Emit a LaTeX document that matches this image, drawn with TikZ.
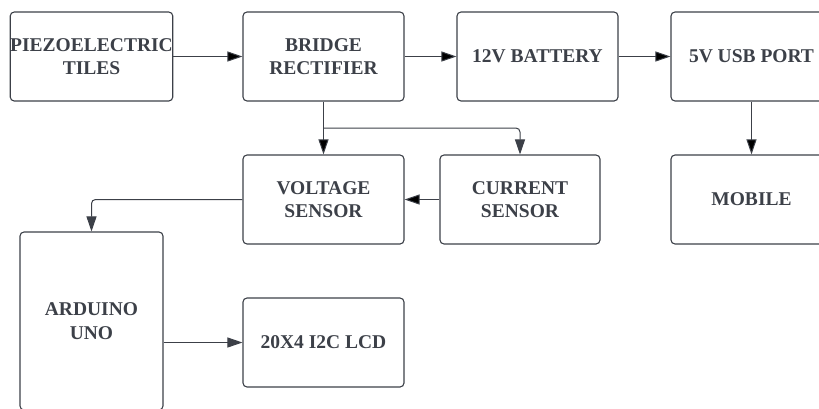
\documentclass[tikz,border=0pt]{standalone}
\usepackage{fontspec}
\setmainfont{Liberation Serif}
\usetikzlibrary{arrows.meta}
\definecolor{inkgray}{RGB}{60,64,72}
\tikzset{
  block/.style={draw=inkgray, line width=1.1pt, rounded corners=4pt, align=center,
    minimum width=161pt, minimum height=89pt, inner sep=0pt, text=inkgray,
    font=\bfseries\fontsize{19.5}{23.5}\selectfont},
  flow/.style={draw=inkgray, line width=1pt, rounded corners=4pt,
    -{Triangle[length=15pt,width=10pt]}}
}
\begin{document}
\begin{tikzpicture}[]
    \useasboundingbox (0pt,0pt) rectangle (819pt,-408pt);
    \node[block] (piezo)   at (91.5pt,-56.5pt)  {PIEZOELECTRIC\\TILES};
    \node[block] (bridge)  at (323.5pt,-56.5pt) {BRIDGE\\RECTIFIER};
    \node[block] (battery) at (537.5pt,-56.5pt) {12V BATTERY};
    \node[block] (usb)     at (751.5pt,-56.5pt) {5V USB PORT};
    \node[block] (voltage) at (323.5pt,-199.5pt) {VOLTAGE\\SENSOR};
    \node[block, minimum width=160pt] (current) at (520pt,-199.5pt) {CURRENT\\SENSOR};
    \node[block] (mobile)  at (751.5pt,-199.5pt) {MOBILE};
    \node[block, minimum width=143pt, minimum height=178pt] (arduino) at (91.5pt,-321pt) {ARDUINO\\UNO};
    \node[block] (lcd)     at (323.5pt,-342.5pt) {20X4 I2C LCD};
    \coordinate (split) at (323.5pt,-128pt);

   \path[flow] (piezo) edge (bridge);
   \path[flow] (bridge) edge (battery);
   \path[flow] (battery) edge (usb);
   \path[flow] (usb) edge (mobile);
   \path[flow] (bridge) edge (voltage);
   \draw[flow] (split) -| (current.north);
   \path[flow] (current) edge (voltage);
   \draw[flow] (voltage.west) -| (arduino.north);
   \draw[flow] (lcd.west -| arduino.east) -- (lcd.west);
  \end{tikzpicture}
\end{document}
